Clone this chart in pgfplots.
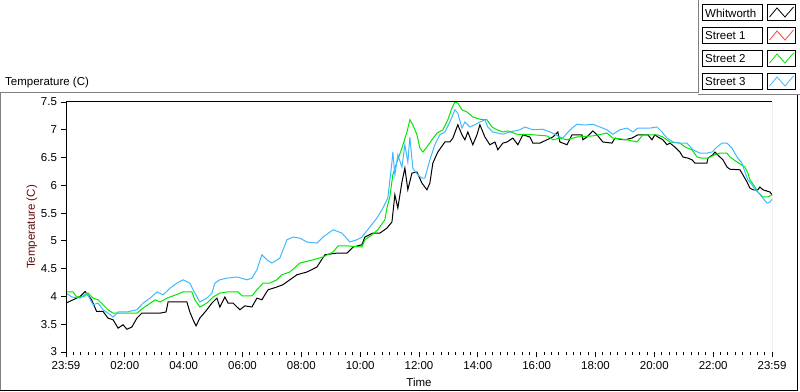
\documentclass[border=0pt]{standalone}
\usepackage{fontspec}
\setmainfont{Liberation Sans}
\usepackage{pgfplots}
\pgfplotsset{compat=1.18}
\definecolor{grnS}{RGB}{0,230,0}
\definecolor{bluS}{RGB}{64,184,255}
\definecolor{redS}{RGB}{255,70,70}
\definecolor{frameg}{RGB}{128,128,128}
\definecolor{axg}{RGB}{140,140,140}
\definecolor{lblred}{RGB}{100,10,10}
\begin{document}
\fontsize{11.5bp}{13bp}\selectfont
\begin{tikzpicture}
\useasboundingbox (0,0) rectangle (800bp,392bp);
\begin{axis}[
  at={(66bp,40bp)}, anchor=south west,
  scale only axis, width=706bp, height=250bp,
  xmin=0, xmax=24, ymin=3, ymax=7.5,
  xtick={0,2,...,24},
  xticklabels={23:59,02:00,04:00,06:00,08:00,10:00,12:00,14:00,16:00,18:00,20:00,22:00,23:59},
  minor x tick num=7,
  ytick={3,3.5,...,7.5},
  tick pos=left, tick align=outside,
  major tick length=5bp, minor tick length=2.5bp,
  tick style={black, line width=0.8bp},
  axis line style={draw=none},
  /pgf/number format/assume math mode=true,
  xlabel={Time}, ylabel={Temperature (C)},
  xlabel style={at={(axis description cs:0.5,0)}, anchor=center, yshift=-30bp},
  ylabel style={at={(axis description cs:0,0.5)}, anchor=center, rotate=0, yshift=34bp, text=lblred},
  clip=true,
]
\addplot[black, line width=1bp] coordinates {
(0.00,3.88)(0.48,4.00)(0.65,4.09)(0.87,3.94)(1.04,3.73)(1.26,3.73)(1.43,3.61)(1.60,3.58)(1.77,3.43)(1.94,3.49)
(2.07,3.41)(2.24,3.45)(2.41,3.61)(2.58,3.70)(2.92,3.70)(3.20,3.70)(3.40,3.72)(3.47,3.90)(4.11,3.90)(4.21,3.72)
(4.32,3.58)(4.42,3.47)(4.55,3.61)(4.79,3.76)(4.96,3.88)(5.13,3.97)(5.23,3.81)(5.40,3.99)(5.51,3.88)(5.68,3.88)
(5.91,3.76)(6.08,3.83)(6.32,3.81)(6.49,3.97)(6.66,3.94)(6.76,4.03)(6.87,4.12)(7.17,4.17)(7.37,4.21)(7.61,4.30)
(7.85,4.39)(8.19,4.44)(8.53,4.53)(8.80,4.75)(9.21,4.78)(9.55,4.78)(9.76,4.89)(10.06,4.93)(10.16,5.07)(10.43,5.14)
(10.67,5.14)(10.91,5.23)(11.08,5.34)(11.18,5.83)(11.28,5.59)(11.42,6.06)(11.52,6.31)(11.62,5.92)(11.76,6.22)(11.93,6.24)
(12.10,6.04)(12.27,5.92)(12.37,6.04)(12.47,6.40)(12.64,6.60)(12.88,6.78)(13.05,6.78)(13.15,6.85)(13.32,7.09)(13.46,6.91)
(13.56,6.82)(13.66,6.96)(13.83,6.73)(13.97,6.91)(14.07,7.09)(14.24,6.87)(14.41,6.73)(14.58,6.78)(14.68,6.64)(14.85,6.76)
(14.99,6.78)(15.19,6.85)(15.36,6.73)(15.53,6.91)(15.77,6.87)(15.87,6.76)(16.11,6.76)(16.35,6.82)(16.55,6.87)(16.72,6.96)
(16.79,6.78)(16.89,6.76)(17.03,6.73)(17.20,6.91)(17.54,6.91)(17.57,6.82)(17.71,6.87)(17.91,6.98)(18.05,6.91)(18.25,6.78)
(18.56,6.76)(18.66,6.85)(18.83,6.83)(19.00,6.82)(19.24,6.85)(19.44,6.91)(19.78,6.91)(19.92,6.82)(20.02,6.91)(20.12,6.87)
(20.29,6.82)(20.43,6.73)(20.53,6.76)(20.70,6.69)(20.87,6.60)(20.97,6.51)(21.14,6.49)(21.28,6.46)(21.38,6.40)(21.79,6.40)
(21.82,6.49)(21.99,6.55)(22.06,6.60)(22.23,6.51)(22.33,6.46)(22.47,6.33)(22.57,6.29)(22.91,6.28)(23.01,6.19)(23.15,6.06)
(23.25,5.95)(23.35,5.92)(23.52,5.92)(23.59,5.97)(23.69,5.92)(23.93,5.88)(24.00,5.83)
};
\addplot[grnS, line width=1bp] coordinates {
(0.00,4.08)(0.24,4.08)(0.37,3.99)(0.58,3.99)(0.75,4.06)(0.92,3.97)(1.09,3.94)(1.26,3.85)(1.43,3.76)(1.60,3.70)
(2.41,3.70)(2.62,3.79)(2.79,3.85)(3.03,3.94)(3.20,3.90)(3.43,3.97)(3.64,4.01)(3.98,4.08)(4.28,4.08)(4.38,3.94)
(4.55,3.81)(4.79,3.88)(5.00,3.99)(5.23,4.06)(5.47,4.08)(5.85,4.08)(5.98,4.01)(6.32,4.01)(6.49,4.12)(6.70,4.24)
(6.93,4.24)(7.17,4.30)(7.34,4.39)(7.61,4.44)(7.95,4.60)(8.40,4.66)(8.74,4.71)(9.08,4.80)(9.25,4.91)(9.55,4.91)
(10.06,4.89)(10.16,5.02)(10.40,5.11)(10.60,5.20)(10.84,5.38)(10.91,5.59)(11.01,5.80)(11.11,6.19)(11.25,6.42)(11.42,6.67)
(11.59,6.96)(11.69,7.18)(11.79,7.09)(11.93,6.91)(12.03,6.67)(12.13,6.60)(12.27,6.69)(12.44,6.82)(12.61,6.94)(12.81,7.00)
(12.98,7.18)(13.12,7.39)(13.22,7.50)(13.32,7.48)(13.46,7.36)(13.63,7.32)(13.83,7.23)(14.07,7.19)(14.31,7.18)(14.48,7.05)
(14.65,7.00)(14.85,6.96)(15.02,6.98)(15.33,6.92)(15.87,6.91)(16.35,6.89)(16.55,6.82)(16.79,6.85)(17.03,6.82)(17.37,6.87)
(17.91,6.89)(18.39,6.94)(18.59,6.85)(19.07,6.82)(19.41,6.78)(19.61,6.91)(20.09,6.91)(20.29,6.87)(20.53,6.78)(20.87,6.76)
(21.04,6.69)(21.28,6.64)(21.45,6.51)(21.62,6.49)(21.82,6.49)(22.06,6.55)(22.23,6.58)(22.47,6.58)(22.57,6.51)(22.81,6.42)
(23.08,6.33)(23.18,6.22)(23.25,6.10)(23.42,5.97)(23.52,5.88)(23.69,5.79)(23.86,5.79)(24.00,5.83)
};
\addplot[bluS, line width=1bp] coordinates {
(0.00,4.06)(0.20,3.99)(0.48,3.97)(0.71,4.06)(0.92,3.85)(1.09,3.88)(1.26,3.76)(1.43,3.70)(1.60,3.63)(1.77,3.72)
(2.07,3.72)(2.41,3.76)(2.62,3.88)(2.86,3.97)(3.09,4.08)(3.30,4.03)(3.54,4.15)(3.77,4.24)(3.98,4.30)(4.21,4.24)
(4.32,4.12)(4.55,3.90)(4.79,3.97)(4.96,4.06)(5.06,4.24)(5.23,4.30)(5.47,4.33)(5.81,4.35)(6.15,4.30)(6.32,4.33)
(6.49,4.48)(6.66,4.75)(6.83,4.66)(7.00,4.60)(7.27,4.69)(7.51,5.02)(7.72,5.07)(7.95,5.05)(8.19,4.98)(8.53,4.96)
(8.74,5.07)(9.08,5.20)(9.38,5.14)(9.65,4.98)(9.89,5.02)(10.06,5.07)(10.33,5.25)(10.57,5.41)(10.74,5.56)(10.77,5.59)
(10.94,5.77)(11.08,6.42)(11.11,6.60)(11.18,6.19)(11.28,6.55)(11.42,6.33)(11.52,6.73)(11.62,6.42)(11.69,6.87)(11.79,6.31)
(11.96,6.19)(12.10,6.13)(12.20,6.13)(12.37,6.46)(12.54,6.73)(12.71,6.91)(12.88,6.96)(13.05,7.14)(13.22,7.36)(13.32,7.30)
(13.46,7.03)(13.56,7.14)(13.73,7.05)(13.90,7.09)(14.07,7.14)(14.24,7.18)(14.34,7.05)(14.51,6.96)(14.68,6.94)(14.85,6.92)
(15.09,6.96)(15.43,7.00)(15.60,7.05)(15.87,7.00)(16.21,7.01)(16.45,6.96)(16.62,6.92)(16.79,6.87)(16.89,6.85)(17.03,6.94)
(17.20,7.03)(17.37,7.10)(17.54,7.09)(17.74,7.09)(17.91,7.10)(18.15,7.05)(18.39,7.00)(18.59,6.92)(18.83,7.00)(19.07,7.03)
(19.27,6.96)(19.44,7.03)(19.85,7.03)(20.09,7.05)(20.26,6.96)(20.43,6.85)(20.63,6.78)(20.87,6.76)(21.11,6.76)(21.31,6.64)
(21.55,6.58)(21.79,6.58)(21.96,6.60)(22.13,6.69)(22.30,6.76)(22.47,6.76)(22.64,6.67)(22.81,6.51)(22.98,6.40)(23.08,6.24)
(23.18,6.10)(23.32,6.01)(23.42,5.92)(23.52,5.88)(23.66,5.79)(23.83,5.68)(23.93,5.70)(24.00,5.75)
};
\draw[black, line width=1bp] (rel axis cs:0,0) -- (rel axis cs:0,1) -- (rel axis cs:1,1);
\draw[axg, line width=1bp] (rel axis cs:1,1) -- (rel axis cs:1,0) -- (rel axis cs:0,0);
\end{axis}
\begin{scope}[x=1bp, y=-1bp, shift={(0,392bp)}]
  % outer frame
  \draw[frameg, line width=1bp] (0.5,391) -- (0.5,92.5) -- (698,92.5) -- (698,0);
  \draw[frameg, line width=1bp] (698,95) -- (800,95);
  \draw[black, line width=1bp] (797,95) -- (797,391) -- (0,391);
  % top-left label
  \node[anchor=base west, inner sep=0] at (5,86) {Temperature (C)};
  % legend
  \foreach \yy/\txt/\col in {4/Whitworth/black, 27/Street 1/redS, 50/Street 2/grnS, 73/Street 3/bluS} {
    \draw[black, line width=1bp, fill=white] (702.5,\yy+0.5) rectangle (762.5,\yy+16.5);
    \node[anchor=west, inner sep=0] at (705,\yy+9) {\txt};
    \draw[black, line width=1bp, fill=white] (767.5,\yy+0.5) rectangle (795.5,\yy+16.5);
    \draw[\col, line width=0.8bp] (769.5,\yy+13) -- (777,\yy+4) -- (785,\yy+13) -- (793.5,\yy+3);
  }
\end{scope}
\end{tikzpicture}
\end{document}
